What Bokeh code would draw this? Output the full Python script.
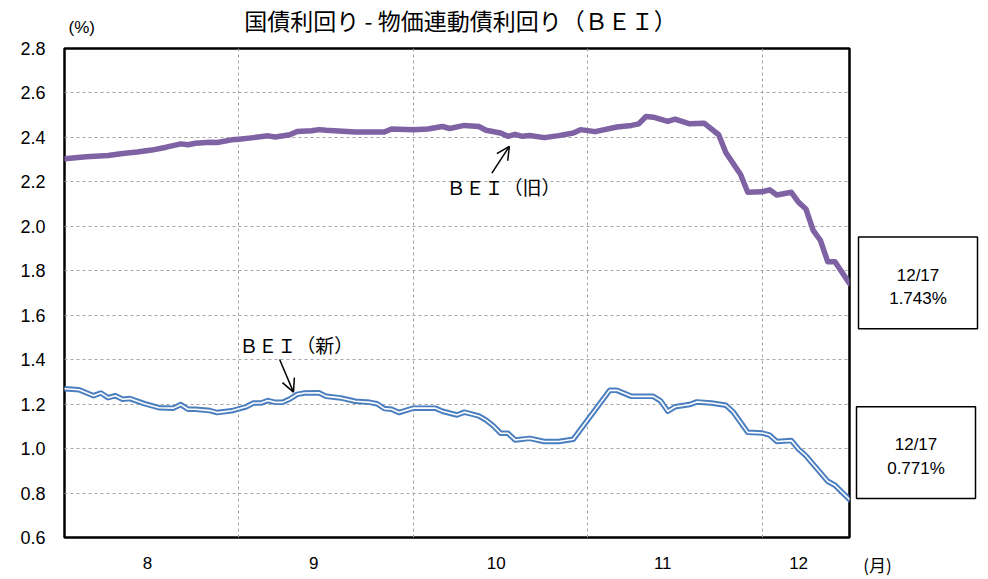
from bokeh.plotting import figure
from bokeh.layouts import column, row
from bokeh.models import FixedTicker, Label, Arrow, OpenHead, Range1d, PrintfTickFormatter
from bokeh.core.properties import value
from bokeh.embed import file_html
from bokeh.resources import INLINE

FONT = "Noto Sans CJK JP"
NUM_FONT = "Liberation Sans"

title_text = "国債利回り - 物価連動債利回り（ＢＥＩ）"
y_unit = "(%)"
x_unit = "(月)"

# trading-day index (0 = first day shown, 108 = 12/17)
old_idx = [0, 3, 6, 8, 10, 12, 14, 16, 17, 18, 20, 21, 23, 24, 26, 28, 29, 31, 32, 34,
           35, 36, 40, 44, 45, 48, 50, 52, 53, 55, 57, 58, 60, 61, 62, 63, 64, 66, 68, 70,
           71, 73, 76, 78, 79, 80, 81, 83, 84, 86, 88, 90, 91, 93, 94, 96, 97, 98, 100, 101,
           102, 103, 104, 105, 106, 108]
old_bei = [2.304, 2.313, 2.319, 2.328, 2.334, 2.343, 2.356, 2.371, 2.367, 2.374,
           2.378, 2.377, 2.389, 2.392, 2.399, 2.407, 2.402, 2.412, 2.427, 2.430,
           2.435, 2.432, 2.424, 2.424, 2.438, 2.435, 2.438, 2.449, 2.440, 2.454,
           2.449, 2.432, 2.420, 2.405, 2.414, 2.405, 2.409, 2.399, 2.408, 2.420,
           2.435, 2.426, 2.447, 2.454, 2.461, 2.494, 2.491, 2.472, 2.482, 2.461,
           2.464, 2.412, 2.331, 2.234, 2.153, 2.155, 2.164, 2.141, 2.153, 2.108,
           2.078, 1.982, 1.937, 1.841, 1.841, 1.743]

new_idx = [0, 2, 3, 4, 5, 6, 7, 8, 9, 11, 13, 15, 16, 17, 18, 20, 21, 23, 25, 26,
           27, 28, 29, 30, 31, 32, 33, 35, 36, 38, 40, 42, 43, 44, 45, 46, 48, 51, 52, 54,
           55, 57, 58, 59, 60, 61, 62, 64, 66, 68, 70, 75, 76, 78, 81, 82, 83, 84, 86, 87,
           89, 91, 92, 94, 96, 97, 98, 100, 101, 102, 105, 106, 108]
new_bei = [1.269, 1.265, 1.251, 1.238, 1.250, 1.229, 1.238, 1.222, 1.225, 1.202,
           1.184, 1.182, 1.198, 1.177, 1.177, 1.171, 1.162, 1.170, 1.188, 1.205,
           1.205, 1.216, 1.208, 1.208, 1.223, 1.244, 1.250, 1.251, 1.235, 1.228,
           1.213, 1.208, 1.202, 1.180, 1.177, 1.162, 1.182, 1.182, 1.168, 1.151,
           1.164, 1.147, 1.128, 1.102, 1.069, 1.069, 1.039, 1.046, 1.032, 1.032,
           1.042, 1.262, 1.262, 1.235, 1.235, 1.215, 1.168, 1.188, 1.198, 1.210,
           1.205, 1.195, 1.165, 1.073, 1.070, 1.061, 1.032, 1.036, 0.997, 0.968,
           0.853, 0.835, 0.771]

month_pos = [11.4, 34.3, 59.4, 82.3, 101.0]
month_labels = ["8", "9", "10", "11", "12"]
month_grid = [24, 48, 72, 96]
y_ticks = [0.6, 0.8, 1.0, 1.2, 1.4, 1.6, 1.8, 2.0, 2.2, 2.4, 2.6, 2.8]

last_date = "12/17"
last_old = "1.743%"
last_new = "0.771%"


def bare(fig):
    fig.outline_line_color = None
    fig.background_fill_color = "white"
    fig.border_fill_color = "white"
    return fig


# ---------- header strip (title + unit) : pixel coordinates ----------
head = bare(figure(width=980, height=37, x_range=Range1d(0, 980), y_range=Range1d(37, 0),
                   x_axis_type=None, y_axis_type=None, output_backend="svg",
                   toolbar_location=None, min_border=0))
head.text(x=[460], y=[19], text=[title_text], text_font=value(FONT), text_font_size=value("23px"),
          text_align="center", text_baseline="middle", text_color="black")
head.text(x=[68], y=[27], text=[y_unit], text_font=value(NUM_FONT), text_font_size=value("17px"),
          text_align="left", text_baseline="middle", text_color="black")

# ---------- main chart ----------
p = figure(width=851, height=542, x_range=Range1d(0, 108), y_range=Range1d(0.6, 2.8),
           output_backend="svg", toolbar_location=None,
           min_border_left=64, min_border_right=2, min_border_top=11, min_border_bottom=37)
p.background_fill_color = "white"
p.border_fill_color = "white"
p.outline_line_color = "black"
p.outline_line_width = 2.5

for ax in (p.xaxis[0], p.yaxis[0]):
    ax.axis_line_color = None
    ax.major_tick_line_color = None
    ax.minor_tick_line_color = None
    ax.major_label_text_font = NUM_FONT
    ax.major_label_text_color = "black"

p.yaxis.ticker = FixedTicker(ticks=y_ticks)
p.yaxis.formatter = PrintfTickFormatter(format="%.1f")
p.yaxis.major_label_text_font_size = "18px"
p.yaxis.major_label_standoff = 13

p.xaxis.ticker = FixedTicker(ticks=month_pos)
p.xaxis.major_label_overrides = {pos: lab for pos, lab in zip(month_pos, month_labels)}
p.xaxis.major_label_text_font_size = "17px"
p.xaxis.major_label_standoff = 13

p.xgrid.ticker = FixedTicker(ticks=month_grid)
for g in (p.xgrid[0], p.ygrid[0]):
    g.grid_line_color = "#a6a6a6"
    g.grid_line_dash = "3 3"
    g.grid_line_width = 1

# old BEI: thick purple
p.line(old_idx, old_bei, line_color="#7e62a3", line_width=5.5, line_join="round", line_cap="round")
# new BEI: double line
p.line(new_idx, new_bei, line_color="#4a7ebf", line_width=5.5, line_join="round", line_cap="round")
p.line(new_idx, new_bei, line_color="white", line_width=1.6, line_join="round", line_cap="round")

p.add_layout(Arrow(end=OpenHead(size=13, line_width=1.5, line_color="black"),
                   x_start=58.8, y_start=2.239, x_end=61.2, y_end=2.360,
                   line_width=1.5, line_color="black"))
p.add_layout(Label(x=60.4, y=2.181, text="ＢＥＩ（旧）", text_align="center", text_baseline="middle",
                   text_font=FONT, text_font_size="19px", text_color="black"))
p.add_layout(Arrow(end=OpenHead(size=13, line_width=1.5, line_color="black"),
                   x_start=29.6, y_start=1.401, x_end=31.5, y_end=1.254,
                   line_width=1.5, line_color="black"))
p.add_layout(Label(x=31.9, y=1.468, text="ＢＥＩ（新）", text_align="center", text_baseline="middle",
                   text_font=FONT, text_font_size="19px", text_color="black"))

# ---------- right strip (latest-value boxes + month unit) ----------
# its frame is aligned with the main frame (page y 48..542), coordinates in page pixels
side = bare(figure(width=129, height=542, x_range=Range1d(851, 980), y_range=Range1d(542, 48),
                   y_axis_type=None, output_backend="svg",
                   toolbar_location=None, min_border=0))
side.xgrid.visible = False
side.xaxis.ticker = FixedTicker(ticks=[877])
side.xaxis.major_label_overrides = {877: x_unit}
side.xaxis.axis_line_color = None
side.xaxis.major_tick_line_color = None
side.xaxis.minor_tick_line_color = None
side.xaxis.major_label_text_font = FONT
side.xaxis.major_label_text_font_size = "17px"
side.xaxis.major_label_text_color = "black"
side.xaxis.major_label_standoff = 8

side.quad(left=[858, 856], right=[977, 975], top=[238.5, 410], bottom=[331, 502.5],
          fill_color="white", line_color="black", line_width=1.5)
side.text(x=[917.5, 917.5, 915.5, 915.5], y=[277, 301, 448, 472],
          text=[last_date, last_old, last_date, last_new],
          text_font=value(NUM_FONT), text_font_size=value("17px"),
          text_align="center", text_baseline="middle", text_color="black")

layout = column(head, row(p, side, spacing=0), spacing=0)

open("out.html", "w").write(file_html(layout, INLINE))
